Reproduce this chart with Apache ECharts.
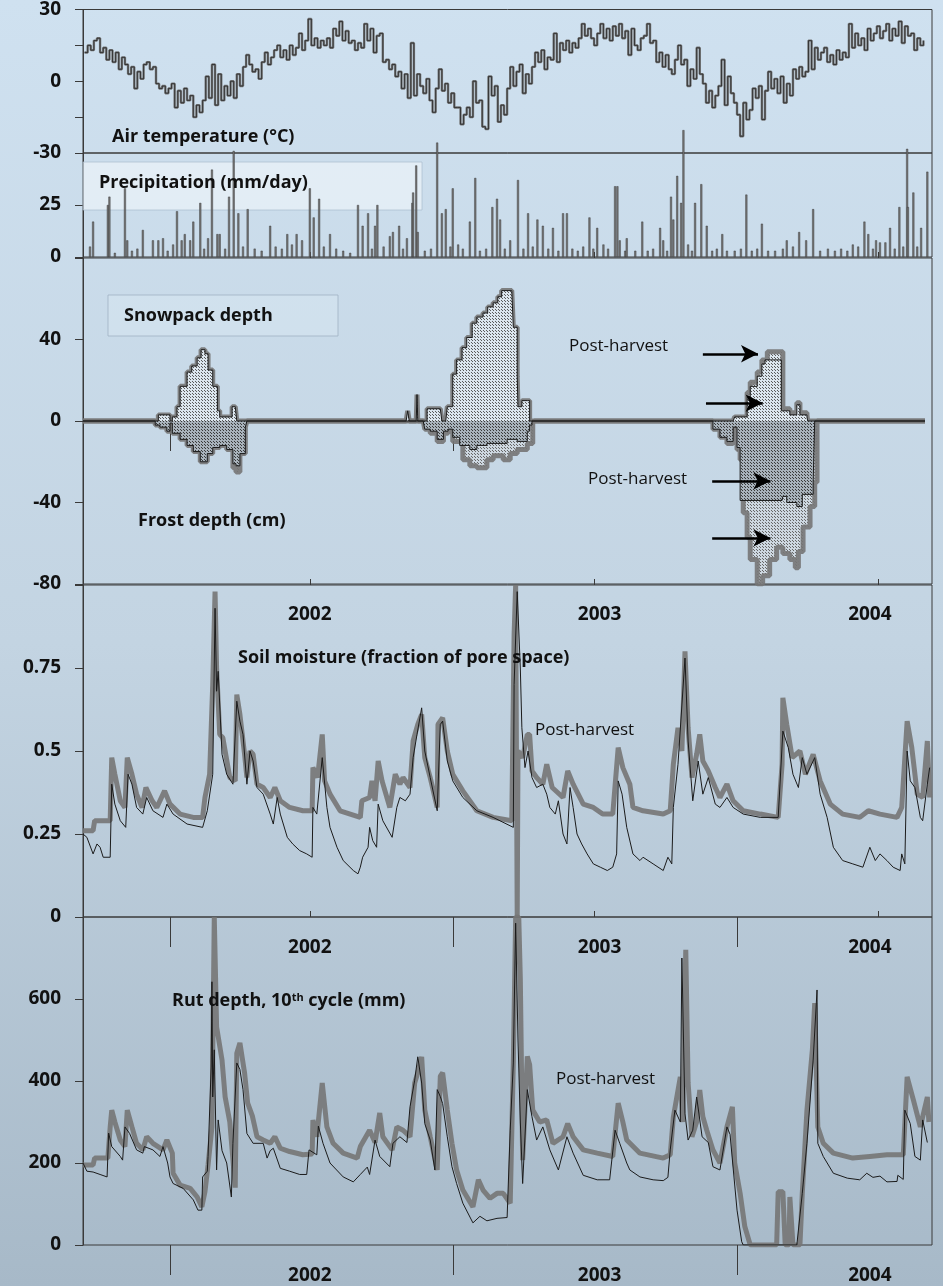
<!DOCTYPE html>
<html>
<head>
<meta charset="utf-8">
<script src="https://cdn.jsdelivr.net/npm/echarts@6/dist/echarts.min.js"></script>
<style>
  html, body { margin: 0; padding: 0; }
  #chart { width: 943px; height: 1286px; }
</style>
</head>
<body>
<div id="chart"></div>
<script>
// x values are day numbers counted from 2001-01-01 (365 = 1 Jan 2002)
var dayMin = 253, dayMax = 1346;
var yearStarts = [365, 730, 1095];
var midYears = [546, 911, 1277];
var yearLabelAt = [545, 918, 1266];
var yearNames = ['2002', '2003', '2004'];

// air temperature, one reading every 4 days from day 255
var tempStart = 255, tempStep = 4;
var tempVals = [
  12, 15, 13, 17, 18, 12, 14, 9, 13, 8, 12, 5, 10, 7, 3,
  6, -3, 4, 1, 7, 8, 5, 6, -1, -3, -2, -5, -3, -1, -11,
  -4, -9, -3, -8, -6, -15, -10, -13, -8, 2, -7, 7, -10, 3, -8,
  -2, -6, 0, -7, 3, -2, 6, 11, 7, 4, 5, 1, 8, 12, 7,
  10, 13, 15, 10, 13, 9, 15, 11, 14, 20, 13, 17, 26, 15, 18,
  14, 17, 15, 18, 14, 22, 19, 25, 17, 21, 16, 17, 13, 16, 14,
  24, 17, 22, 12, 19, 20, 8, 9, 5, 7, 2, 4, -3, 3, -7,
  16, -6, 3, -2, -5, 1, -8, -13, -3, 5, -4, -1, -9, -5, -11,
  -11, -18, -14, -11, -15, 0, -9, -8, -19, -20, 2, -6, -2, -17, -10,
  -14, -3, 6, -2, 4, 7, -5, 3, -1, 6, 12, 8, 13, 5, 10,
  9, 20, 8, 16, 13, 17, 12, 16, 14, 18, 24, 19, 22, 18, 15,
  20, 24, 18, 22, 17, 23, 19, 24, 18, 21, 11, 22, 15, 13, 18,
  19, 24, 16, 17, 8, 12, 6, 11, 5, 3, 9, 15, 7, 9, -2,
  5, 1, 14, 3, -1, -9, -4, -11, -6, -2, 9, -10, 2, -5, -9,
  -14, -23, -9, -16, -12, -3, -7, -2, -16, -4, 4, -3, 1, -5, 2,
  -9, -1, -6, 5, 1, 6, 2, 4, 17, 5, 14, 9, 12, 14, 8,
  11, 7, 13, 9, 12, 10, 24, 14, 20, 15, 18, 13, 22, 17, 20,
  23, 18, 21, 24, 17, 22, 19, 25, 16, 23, 19, 20, 13, 18, 15,
  17
];

// precipitation (mm/day): [day, value]
var precip = [
  [262,5],[266,17],[285,25],[287,29],[294,2],[307,33],[310,8],[316,3],[323,4],[330,13],
  [343,8],[350,8],[356,9],[362,3],[369,6],[374,22],[380,8],[384,11],[391,8],[395,17],
  [404,26],[409,4],[414,9],[419,42],[426,11],[429,11],[436,4],[441,29],[447,51],[453,21],
  [459,5],[465,23],[474,4],[483,3],[494,15],[501,5],[509,4],[516,11],[522,6],[528,11],
  [535,8],[545,33],[550,19],[557,28],[563,5],[571,11],[579,4],[588,3],[597,2],[607,25],
  [613,15],[620,21],[625,4],[629,15],[632,25],[640,5],[648,10],[652,12],[660,15],[665,4],
  [670,9],[677,26],[678,31],[682,44],[684,12],[693,3],[701,4],[709,55],[715,21],[720,23],
  [726,5],[729,33],[736,6],[742,4],[751,17],[758,38],[764,3],[772,4],[780,24],[786,28],
  [790,18],[796,4],[803,8],[813,37],[820,4],[826,21],[832,5],[838,18],[845,15],[852,4],
  [858,14],[865,3],[871,21],[876,21],[883,4],[890,3],[897,5],[905,19],[910,4],[915,14],
  [923,6],[929,4],[938,34],[941,34],[944,8],[951,3],[953,9],[964,3],[973,17],[980,3],
  [987,4],[996,14],[1000,8],[1005,3],[1010,29],[1013,18],[1018,39],[1023,26],[1026,61],[1032,6],
  [1037,3],[1041,26],[1049,35],[1056,15],[1063,3],[1069,4],[1076,11],[1082,3],[1092,3],[1100,4],
  [1107,30],[1114,3],[1121,4],[1127,16],[1135,3],[1144,3],[1154,4],[1159,8],[1167,5],[1175,12],
  [1184,8],[1193,23],[1202,3],[1212,4],[1221,3],[1229,4],[1237,3],[1244,6],[1251,5],[1259,17],
  [1264,11],[1270,4],[1274,8],[1279,7],[1286,7],[1292,14],[1298,4],[1304,24],[1309,5],[1314,52],
  [1315,24],[1322,31],[1327,5],[1332,14],[1340,41]
];

// snowpack depth (cm), positive
var snowPre = [
  [253,0],[346,0],[350,3],[359,3],[365,0],[368,2],[374,7],[378,17],[387,24],[393,27],[400,31],
  [405,35],[410,33],[414,25],[420,17],[426,5],[429,2],[442,2],[445,7],[449,7],[451,0],
  [669,0],[671,5],[673,0],[682,0],[683,13],[684,0],[693,0],[696,6],[713,6],[715,0],[720,0],
  [722,7],[729,23],[734,30],[741,36],[747,41],[754,48],[760,51],[768,53],[774,56],[781,58],
  [787,61],[792,64],[805,64],[807,46],[812,22],[813,7],[818,10],[825,10],[828,0],
  [1090,0],[1092,2],[1108,12],[1112,17],[1121,22],[1127,28],[1131,30],[1149,30],[1152,5],
  [1163,3],[1172,8],[1176,3],[1185,2],[1186,0],[1337,0]
];
var snowPost = [
  [253,0],[346,0],[350,3],[359,3],[365,0],[368,2],[374,7],[378,17],[387,24],[393,27],[400,31],
  [405,35],[410,33],[414,25],[420,17],[426,5],[429,2],[442,2],[445,7],[449,7],[451,0],
  [669,0],[671,5],[673,0],[682,0],[683,13],[684,0],[693,0],[696,6],[713,6],[715,0],[720,0],
  [722,7],[729,23],[734,30],[741,36],[747,41],[754,48],[760,51],[768,53],[774,56],[781,58],
  [787,61],[792,64],[805,64],[807,46],[812,22],[813,7],[818,10],[825,10],[828,0],
  [1090,0],[1092,2],[1108,14],[1112,19],[1121,24],[1127,30],[1134,34],[1150,34],[1154,6],
  [1163,4],[1172,9],[1176,4],[1185,3],[1186,0],[1337,0]
];
// frost depth (cm), negative
var frostPre = [
  [253,0],[343,0],[346,-2],[352,-3],[361,-5],[365,-1],[368,-6],[378,-9],[387,-12],[395,-15],
  [404,-20],[413,-16],[420,-13],[429,-12],[438,-14],[446,-21],[450,-22],[455,-16],[462,-3],[464,0],
  [691,0],[693,-4],[700,-5],[709,-9],[717,-5],[723,-4],[729,-8],[738,-12],[751,-14],[760,-12],
  [773,-11],[786,-11],[799,-9],[812,-10],[825,-5],[828,-2],[831,0],
  [1058,0],[1064,-4],[1073,-8],[1082,-10],[1090,-3],[1095,-13],[1099,-39],[1153,-39],[1154,-37],
  [1159,-40],[1172,-42],[1179,-36],[1193,-30],[1195,0],[1337,0]
];
var frostPost = [
  [253,0],[343,0],[346,-2],[352,-3],[361,-5],[365,-1],[368,-6],[378,-9],[387,-12],[395,-15],
  [404,-20],[413,-16],[420,-13],[429,-12],[438,-14],[446,-23],[450,-25],[455,-16],[462,-3],[464,0],
  [691,0],[693,-4],[700,-6],[709,-10],[717,-6],[723,-5],[729,-10],[742,-19],[751,-22],[760,-23],
  [773,-19],[781,-17],[794,-19],[803,-16],[812,-14],[825,-11],[832,-1],[834,0],
  [1058,0],[1064,-4],[1073,-8],[1082,-11],[1090,-4],[1095,-14],[1099,-19],[1103,-45],[1108,-57],
  [1112,-68],[1121,-80],[1128,-76],[1137,-68],[1146,-62],[1154,-65],[1163,-68],[1170,-72],
  [1174,-64],[1180,-52],[1189,-42],[1195,-30],[1198,0],[1337,0]
];

// soil moisture (fraction of pore space)
var soilPre = [
  [253,0.25],[258,0.24],[266,0.19],[271,0.22],[275,0.21],[279,0.18],[288,0.18],[290,0.40],[294,0.34],[301,0.29],
  [308,0.27],[311,0.43],[316,0.40],[322,0.33],[330,0.31],[335,0.36],[343,0.32],[356,0.30],[361,0.34],[369,0.31],
  [387,0.28],[407,0.27],[413,0.32],[420,0.43],[423,0.93],[425,0.68],[427,0.74],[432,0.49],[438,0.43],[446,0.40],
  [451,0.65],[455,0.59],[459,0.55],[464,0.40],[468,0.50],[472,0.47],[477,0.39],[485,0.37],[494,0.31],[498,0.28],
  [503,0.36],[507,0.31],[516,0.24],[523,0.22],[532,0.20],[541,0.19],[548,0.18],[549,0.33],[554,0.31],[561,0.48],
  [567,0.33],[571,0.27],[580,0.21],[588,0.17],[601,0.14],[607,0.13],[610,0.15],[613,0.18],[620,0.21],[622,0.27],
  [626,0.23],[631,0.21],[633,0.34],[639,0.29],[651,0.24],[657,0.33],[661,0.36],[668,0.35],[674,0.37],[678,0.48],
  [683,0.55],[689,0.63],[693,0.50],[700,0.42],[709,0.32],[713,0.58],[716,0.59],[722,0.47],[729,0.41],[742,0.36],
  [760,0.32],[781,0.30],[807,0.27],[808,0.70],[812,0.98],[816,0.75],[818,0.57],[822,0.45],[826,0.50],[831,0.42],
  [837,0.39],[845,0.40],[850,0.37],[854,0.33],[861,0.31],[865,0.35],[871,0.25],[876,0.22],[880,0.39],[884,0.33],
  [889,0.25],[895,0.22],[902,0.19],[910,0.16],[919,0.15],[928,0.14],[935,0.15],[940,0.19],[942,0.41],[947,0.37],
  [953,0.27],[961,0.19],[970,0.17],[974,0.18],[987,0.16],[1000,0.14],[1006,0.18],[1011,0.16],[1013,0.33],[1019,0.46],
  [1028,0.78],[1032,0.53],[1038,0.35],[1045,0.47],[1051,0.37],[1058,0.42],[1067,0.34],[1073,0.33],[1082,0.36],[1090,0.33],
  [1103,0.31],[1125,0.30],[1148,0.30],[1154,0.56],[1161,0.51],[1167,0.43],[1174,0.39],[1179,0.48],[1185,0.43],[1195,0.48],
  [1202,0.37],[1211,0.30],[1219,0.21],[1231,0.17],[1244,0.16],[1257,0.15],[1266,0.21],[1273,0.17],[1279,0.19],[1288,0.17],
  [1296,0.15],[1305,0.14],[1307,0.19],[1311,0.16],[1314,0.50],[1318,0.41],[1324,0.39],[1331,0.30],[1334,0.29],[1340,0.40],
  [1343,0.45]
];
var soilPost = [
  [253,0.26],[266,0.26],[268,0.29],[288,0.29],[290,0.48],[294,0.43],[301,0.35],[307,0.33],[310,0.48],[316,0.43],
  [322,0.37],[329,0.33],[334,0.39],[342,0.35],[348,0.33],[358,0.38],[365,0.34],[378,0.31],[395,0.30],[407,0.30],
  [410,0.36],[416,0.43],[420,0.70],[423,0.98],[425,0.75],[429,0.55],[433,0.54],[442,0.42],[449,0.41],[451,0.67],
  [455,0.61],[461,0.49],[464,0.42],[468,0.50],[472,0.49],[477,0.40],[485,0.39],[494,0.36],[500,0.39],[507,0.35],
  [519,0.33],[536,0.32],[548,0.32],[549,0.45],[555,0.42],[561,0.55],[564,0.41],[571,0.37],[584,0.32],[610,0.30],
  [612,0.35],[622,0.36],[625,0.41],[629,0.35],[633,0.47],[638,0.41],[648,0.33],[655,0.43],[661,0.40],[665,0.42],
  [674,0.39],[678,0.53],[684,0.58],[689,0.61],[693,0.48],[700,0.42],[709,0.33],[710,0.58],[716,0.60],[722,0.50],
  [729,0.43],[742,0.38],[760,0.32],[781,0.30],[805,0.29],[808,0.85],[810,1.0],[812,0],[813,0.50],[819,0.48],
  [825,0.55],[828,0.55],[831,0.44],[837,0.42],[845,0.40],[850,0.46],[857,0.39],[871,0.36],[877,0.44],[884,0.40],
  [897,0.34],[910,0.33],[922,0.31],[935,0.31],[942,0.51],[948,0.45],[957,0.40],[961,0.33],[974,0.32],[1000,0.31],
  [1009,0.32],[1013,0.46],[1019,0.57],[1024,0.50],[1028,0.80],[1032,0.57],[1037,0.42],[1043,0.49],[1047,0.55],[1051,0.47],
  [1058,0.44],[1067,0.39],[1073,0.36],[1082,0.40],[1090,0.35],[1103,0.32],[1125,0.31],[1148,0.30],[1153,0.46],[1154,0.66],
  [1159,0.58],[1166,0.48],[1176,0.50],[1183,0.43],[1193,0.49],[1202,0.41],[1215,0.34],[1231,0.31],[1253,0.30],[1264,0.32],
  [1279,0.31],[1301,0.30],[1307,0.33],[1314,0.59],[1320,0.51],[1327,0.37],[1334,0.36],[1340,0.53],[1343,0.36]
];

// rut depth, 10th cycle (mm)
var rutPre = [
  [253,200],[258,180],[266,178],[275,172],[284,166],[285,166],[286,273],[290,240],[301,216],[304,207],
  [307,288],[313,272],[322,232],[330,224],[332,240],[343,232],[352,216],[356,240],[362,200],[365,166],
  [369,150],[382,138],[395,110],[401,85],[406,85],[407,166],[413,180],[414,216],[418,434],[419,642],
  [420,361],[422,476],[425,183],[427,305],[432,230],[438,200],[444,117],[446,248],[451,444],[455,428],
  [459,379],[464,272],[472,248],[485,248],[490,212],[494,230],[498,236],[507,187],[519,180],[532,172],
  [541,172],[544,232],[554,220],[556,290],[562,248],[571,200],[588,166],[601,154],[610,172],[619,190],
  [622,172],[629,256],[635,216],[648,191],[652,248],[661,264],[670,250],[674,337],[680,402],[684,459],
  [689,395],[693,296],[700,256],[706,183],[709,379],[713,362],[716,345],[722,264],[728,191],[734,150],
  [742,102],[755,54],[764,70],[773,59],[786,65],[799,67],[803,280],[807,444],[810,785],[813,500],
  [816,300],[819,150],[825,379],[831,313],[837,256],[845,288],[854,232],[865,183],[876,264],[884,224],
  [897,170],[915,159],[931,159],[938,280],[944,248],[953,200],[957,183],[970,166],[987,159],[1000,157],
  [1006,165],[1009,232],[1015,329],[1022,300],[1024,700],[1028,320],[1032,256],[1038,280],[1043,361],[1050,264],
  [1058,250],[1064,191],[1073,183],[1082,288],[1086,270],[1095,85],[1101,8],[1103,0],[1172,0],[1179,126],
  [1185,248],[1193,451],[1198,622],[1199,248],[1206,216],[1219,175],[1237,163],[1253,159],[1262,175],[1270,165],
  [1279,168],[1288,154],[1301,155],[1302,170],[1309,160],[1311,329],[1318,296],[1324,216],[1331,207],[1334,305],
  [1340,250]
];
var rutPost = [
  [253,195],[266,195],[268,212],[285,212],[288,288],[290,329],[294,300],[301,256],[307,240],[310,329],
  [316,288],[322,248],[330,232],[335,264],[343,248],[356,232],[361,256],[368,224],[369,175],[378,146],
  [391,138],[400,117],[406,93],[410,130],[414,195],[419,288],[422,800],[424,800],[425,532],[432,451],
  [436,361],[442,300],[449,140],[451,468],[455,493],[461,420],[465,346],[471,315],[477,264],[485,256],
  [494,248],[500,264],[507,236],[519,228],[536,220],[548,222],[549,305],[554,264],[561,395],[567,288],
  [575,248],[588,224],[606,212],[610,240],[622,280],[629,250],[635,322],[639,264],[651,232],[657,288],
  [665,280],[674,264],[680,395],[684,420],[689,459],[693,329],[700,264],[709,183],[713,412],[716,420],
  [722,329],[728,248],[734,183],[742,134],[755,93],[762,159],[768,134],[777,114],[786,126],[794,126],
  [803,102],[807,444],[810,800],[814,800],[816,650],[819,207],[825,460],[828,440],[832,329],[841,300],
  [850,305],[858,248],[871,264],[877,296],[884,264],[897,232],[915,224],[935,216],[942,346],[948,300],
  [953,256],[970,224],[1000,212],[1009,220],[1013,312],[1022,410],[1025,300],[1029,720],[1032,395],[1037,264],
  [1043,300],[1047,378],[1051,313],[1056,280],[1064,232],[1073,200],[1082,288],[1089,337],[1092,200],[1099,126],
  [1105,45],[1112,0],[1146,0],[1148,130],[1154,130],[1157,0],[1162,0],[1163,117],[1167,0],[1176,0],
  [1179,126],[1185,329],[1192,476],[1195,590],[1199,288],[1206,248],[1219,224],[1244,212],[1266,216],[1288,220],
  [1309,220],[1314,410],[1322,354],[1331,288],[1340,361],[1342,300]
];

var tempData = tempVals.map(function (v, i) { return [tempStart + i * tempStep, v]; });

var FONT = '"Open Sans", "Noto Sans", sans-serif';
var GRAY = 'rgba(118,118,118,0.9)';
var BLACK = '#1b1b1b';

function dots(bg, fg, step) {
  var c = document.createElement('canvas');
  c.width = step; c.height = step;
  var g = c.getContext('2d');
  g.fillStyle = bg; g.fillRect(0, 0, step, step);
  g.fillStyle = fg;
  g.fillRect(0, 0, 1, 1);
  g.fillRect(Math.floor(step / 2), Math.floor(step / 2), 1, 1);
  return { image: c, repeat: 'repeat' };
}

var grids = [
  { top: 9, height: 144 },
  { top: 153, height: 104 },
  { top: 258, height: 326 },
  { top: 585, height: 332 },
  { top: 917, height: 328 }
].map(function (g) {
  return { left: 83, width: 849, top: g.top, height: g.height, show: true,
           borderColor: '#3a3a3a', borderWidth: 1, backgroundColor: 'transparent' };
});

function yAxis(grid, min, max, step, hide) {
  return {
    type: 'value', gridIndex: grid, min: min, max: max, interval: step,
    axisLine: { show: true, lineStyle: { color: '#3a3a3a' } },
    axisTick: { show: true, length: 8, lineStyle: { color: '#3a3a3a' } },
    splitLine: { show: false },
    axisLabel: {
      margin: 22, color: '#111', fontFamily: FONT, fontWeight: 'bold', fontSize: 19,
      formatter: function (v) { return hide.indexOf(v) >= 0 ? '' : String(v); }
    }
  };
}

function yearLabel(v) {
  return v < yearStarts[1] ? yearNames[0] : (v < yearStarts[2] ? yearNames[1] : yearNames[2]);
}

function xAxes(grid, visible) {
  var base = { type: 'value', gridIndex: grid, min: dayMin, max: dayMax, splitLine: { show: false } };
  if (!visible) return [Object.assign({ show: false }, base)];
  return [
    Object.assign({}, base, {
      axisLine: { show: false },
      axisTick: { show: true, inside: false, length: 30, customValues: yearStarts,
                  lineStyle: { color: '#3a3a3a', width: 1 } },
      axisLabel: { show: true, customValues: yearLabelAt, formatter: yearLabel, margin: 21,
                   color: '#111', fontFamily: FONT, fontWeight: 'bold', fontSize: 19 }
    }),
    Object.assign({}, base, {
      axisLine: { show: false },
      axisTick: { show: true, length: 6, customValues: midYears, lineStyle: { color: '#3a3a3a' } },
      axisLabel: { show: false }
    })
  ];
}

var xs = [].concat(xAxes(0, false), xAxes(1, false), xAxes(2, true), xAxes(3, true), xAxes(4, true));
// indexes: 0 temp, 1 precip, 2-3 snow, 4-5 soil, 6-7 rut

function line(name, data, xi, yi, color, width, extra) {
  return Object.assign({
    name: name, type: 'line', data: data, xAxisIndex: xi, yAxisIndex: yi,
    symbol: 'none', lineStyle: { color: color, width: width }, silent: true
  }, extra || {});
}

var snowFill = dots('#dce6ee', '#5a5a5a', 3);
var frostPreFill = dots('#a8b2bb', '#3a3a3a', 3);
var frostPostFill = dots('#cdd7e0', '#666', 3);

var arrowStyle = { color: '#000', width: 2.5, type: 'solid' };

var option = {
  animation: false,
  backgroundColor: new echarts.graphic.LinearGradient(0, 0, 0, 1, [
    { offset: 0, color: '#cfe1f0' },
    { offset: 0.5, color: '#c3d4e2' },
    { offset: 1, color: '#a7b9c8' }
  ]),
  grid: grids,
  xAxis: xs,
  yAxis: [
    yAxis(0, -30, 30, 15, [15, -15]),
    yAxis(1, 0, 50, 25, [50]),
    yAxis(2, -80, 80, 40, [80]),
    yAxis(3, 0, 1, 0.25, [1]),
    yAxis(4, 0, 800, 200, [800])
  ],
  graphic: [
    { type: 'rect', z: 1, shape: { x: 83, y: 162, width: 339, height: 48 },
      style: { fill: 'rgba(245,249,253,0.55)', stroke: 'rgba(170,188,205,0.7)', lineWidth: 1 } },
    { type: 'rect', z: 1, shape: { x: 108, y: 295, width: 230, height: 41 },
      style: { fill: 'rgba(214,228,240,0.6)', stroke: 'rgba(160,178,195,0.8)', lineWidth: 1 } },
    { type: 'text', z: 50, left: 112, top: 128,
      style: { text: 'Air temperature (°C)', font: 'bold 18px ' + FONT, fill: '#111' } },
    { type: 'text', z: 50, left: 99, top: 174,
      style: { text: 'Precipitation (mm/day)', font: 'bold 18px ' + FONT, fill: '#111' } },
    { type: 'text', z: 50, left: 124, top: 307,
      style: { text: 'Snowpack depth', font: 'bold 18px ' + FONT, fill: '#111' } },
    { type: 'text', z: 50, left: 138, top: 512,
      style: { text: 'Frost depth (cm)', font: 'bold 18px ' + FONT, fill: '#111' } },
    { type: 'text', z: 50, left: 569, top: 338,
      style: { text: 'Post-harvest', font: '17px ' + FONT, fill: '#111' } },
    { type: 'text', z: 50, left: 588, top: 471,
      style: { text: 'Post-harvest', font: '17px ' + FONT, fill: '#111' } },
    { type: 'text', z: 50, left: 238, top: 649,
      style: { text: 'Soil moisture (fraction of pore space)', font: 'bold 18px ' + FONT, fill: '#111' } },
    { type: 'text', z: 50, left: 535, top: 722,
      style: { text: 'Post-harvest', font: '17px ' + FONT, fill: '#111' } },
    { type: 'text', z: 50, left: 172, top: 992,
      style: { text: '{a|Rut depth, 10}{s|th}{a| cycle (mm)}',
               rich: { a: { font: 'bold 18px ' + FONT, fill: '#111' },
                       s: { font: 'bold 11px ' + FONT, fill: '#111', verticalAlign: 'top' } } } },
    { type: 'text', z: 50, left: 556, top: 1071,
      style: { text: 'Post-harvest', font: '17px ' + FONT, fill: '#111' } }
  ],
  series: [
    line('Air temperature', tempData, 0, 0, 'rgba(110,110,110,0.9)', 2.4, { step: 'end' }),
    line('Air temperature line', tempData, 0, 0, BLACK, 0.7, { step: 'end' }),
    {
      name: 'Precipitation', type: 'bar', data: precip, xAxisIndex: 1, yAxisIndex: 1,
      barWidth: 2, clip: false, silent: true,
      itemStyle: { color: '#767676', borderColor: '#2a2a2a', borderWidth: 0.4 }
    },
    line('Frost post-harvest', frostPost, 2, 2, GRAY, 5, { step: 'end', z: 2, areaStyle: { color: frostPostFill, opacity: 1 } }),
    line('Snow post-harvest', snowPost, 2, 2, GRAY, 5, {
      step: 'end', z: 2, areaStyle: { color: snowFill, opacity: 1 },
      markLine: {
        silent: true, symbol: ['none', 'arrow'], symbolSize: [13, 17], lineStyle: arrowStyle,
        label: { show: false },
        data: [
          [{ coord: [1051, 33] }, { coord: [1122, 33] }],
          [{ coord: [1055, 8.8] }, { coord: [1128, 8.8] }],
          [{ coord: [1063, -29.4] }, { coord: [1138, -29.4] }],
          [{ coord: [1063, -57.4] }, { coord: [1138, -57.4] }]
        ]
      }
    }),
    line('Frost', frostPre, 2, 2, BLACK, 1, { step: 'end', z: 3, areaStyle: { color: frostPreFill, opacity: 1 } }),
    line('Snow', snowPre, 2, 2, BLACK, 1, { step: 'end', z: 3, areaStyle: { color: snowFill, opacity: 1 } }),
    line('Soil moisture post-harvest', soilPost, 4, 3, GRAY, 5, { z: 2 }),
    line('Soil moisture', soilPre, 4, 3, BLACK, 1, { z: 3 }),
    line('Rut depth post-harvest', rutPost, 6, 4, GRAY, 5, { z: 2 }),
    line('Rut depth', rutPre, 6, 4, BLACK, 1, { z: 3 })
  ]
};

var chart = echarts.init(document.getElementById('chart'), null, { renderer: 'canvas' });
chart.setOption(option);
</script>
</body>
</html>
